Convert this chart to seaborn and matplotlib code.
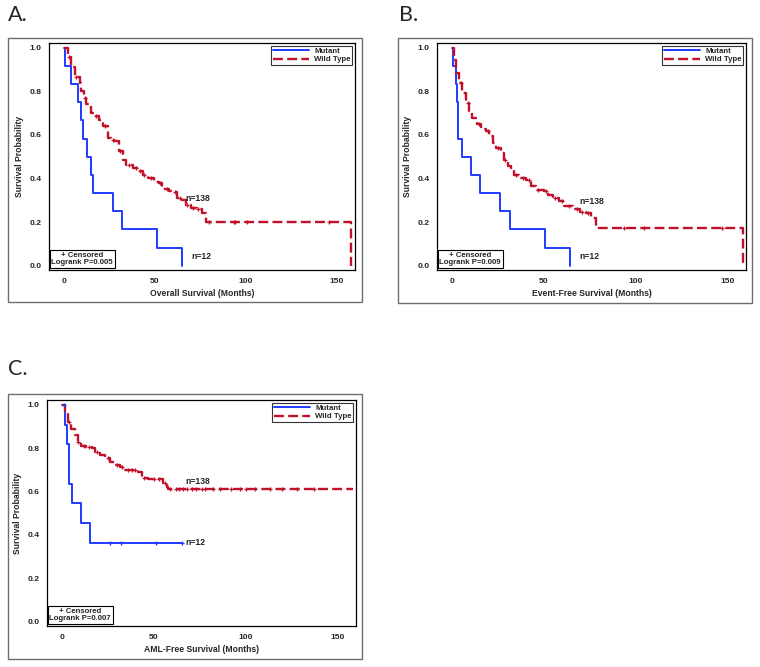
import numpy as np
import pandas as pd
import matplotlib
matplotlib.use("Agg")
import matplotlib.pyplot as plt
import seaborn as sns
from matplotlib.lines import Line2D
from matplotlib.patches import Rectangle

# ---- data (months, survival probability) ----
# Panel A: overall survival
A_mut_t = [0, 0.7, 4.3, 8.0, 9.4, 10.7, 13.0, 15.3, 16.0, 27.0, 32.0, 51.5, 65.0]
A_mut_s = [1.0, 0.917, 0.833, 0.75, 0.667, 0.583, 0.5, 0.417, 0.333, 0.25, 0.167, 0.083, 0.0]
A_wt_t = [0, 0.7, 2.5, 4.3, 6.1, 8.9, 9.8, 11.0, 12.5, 15.2, 17.2, 19.7, 21.6, 24.3, 26.3,
          27.9, 30.6, 32.4, 34.4, 38.0, 41.7, 43.5, 46.2, 49.8, 52.5, 54.3, 58.0, 60.7,
          62.5, 65.0, 67.0, 69.7, 73.4, 76.0, 78.0, 157.6]
A_wt_s = [1.0, 1.0, 0.96, 0.914, 0.868, 0.838, 0.80, 0.77, 0.74, 0.70, 0.685, 0.67, 0.64,
          0.586, 0.575, 0.57, 0.524, 0.486, 0.464, 0.449, 0.433, 0.418, 0.403, 0.383, 0.38,
          0.35, 0.342, 0.338, 0.31, 0.303, 0.28, 0.265, 0.262, 0.24, 0.20, 0.0]
A_wt_cens = [3, 7, 12, 18, 23, 27, 31, 36, 40, 42, 44, 48, 53, 57, 61, 64, 68, 71, 74,
             79.7, 93.3, 94.2, 100.5, 145.8]
A_mut_cens = []
A_pval = "Logrank P=0.005"
A_xlabel = "Overall Survival (Months)"

# Panel B: event-free survival
B_mut_t = [0, 0.7, 2.2, 3.1, 3.6, 5.5, 10.4, 15.3, 26.2, 31.6, 50.9, 64.5]
B_mut_s = [1.0, 0.917, 0.833, 0.75, 0.583, 0.5, 0.417, 0.333, 0.25, 0.167, 0.083, 0.0]
B_wt_t = [0, 1.3, 2.5, 4.0, 5.8, 7.6, 9.5, 11.3, 14.0, 15.8, 18.5, 20.4, 22.2, 24.0, 26.7,
          28.5, 30.4, 32.2, 34.0, 36.7, 40.4, 43.0, 45.8, 50.4, 52.2, 55.0, 58.5, 61.3,
          65.8, 69.5, 73.0, 75.8, 78.5, 158.2]
B_wt_s = [1.0, 0.946, 0.885, 0.84, 0.793, 0.747, 0.709, 0.678, 0.648, 0.625, 0.617, 0.594,
          0.564, 0.54, 0.518, 0.487, 0.456, 0.441, 0.418, 0.403, 0.395, 0.364, 0.349, 0.342,
          0.326, 0.31, 0.296, 0.273, 0.26, 0.247, 0.242, 0.219, 0.173, 0.0]
B_wt_cens = [5, 9, 15, 20, 25, 29, 35, 39, 42, 47, 51, 56, 60, 64, 68, 71, 74,
             93.6, 104.5, 146.7]
B_mut_cens = []
B_pval = "Logrank P=0.009"
B_xlabel = "Event-Free Survival (Months)"

# Panel C: AML-free survival
C_mut_t = [0, 2.0, 3.1, 4.2, 5.6, 10.7, 15.6, 65.2]
C_mut_s = [1.0, 0.909, 0.818, 0.636, 0.545, 0.455, 0.364, 0.364]
C_wt_t = [0, 1.6, 3.4, 5.3, 7.1, 8.9, 10.7, 13.4, 16.2, 18.0, 20.7, 23.4, 26.1, 28.9,
          31.6, 34.3, 37.0, 41.6, 43.4, 47.0, 55.2, 57.0, 57.9, 158.6]
C_wt_s = [1.0, 0.96, 0.92, 0.89, 0.86, 0.83, 0.81, 0.807, 0.80, 0.784, 0.769, 0.753,
          0.738, 0.723, 0.715, 0.70, 0.697, 0.692, 0.662, 0.658, 0.64, 0.623, 0.611, 0.611]
C_wt_cens = [4, 9, 12, 15, 19, 25, 30, 33, 36, 38, 40, 45, 50, 53, 56, 59, 62, 64, 66,
             68, 71, 73, 76, 78, 82, 86, 92, 97, 100, 105, 113, 120, 128, 137]
C_mut_cens = [1.3, 26, 32, 51, 65.2]
C_pval = "Logrank P=0.007"
C_xlabel = "AML-Free Survival (Months)"

n_labels = ["n=12", "n=138"]
# label anchor (months, survival) for each panel: mutant, wild type
A_nlab = [(70, 0.04), (67, 0.306)]
B_nlab = [(69.5, 0.04), (69.5, 0.296)]
C_nlab = [(67.3, 0.363), (67.3, 0.646)]

BLUE = "#1f3cff"
RED = "#c2102b"
FONT = ["Liberation Sans", "DejaVu Sans"]


def step_at(ts, ss, c):
    i = np.searchsorted(ts, c, side="right") - 1
    return np.asarray(ss)[i]


def km_panel(ax, mut_t, mut_s, wt_t, wt_s, mut_cens, wt_cens, nlab, pval, xlabel):
    sns.lineplot(x=mut_t, y=mut_s, ax=ax, color=BLUE, lw=1.4,
                 drawstyle="steps-post", estimator=None, sort=False)
    sns.lineplot(x=wt_t, y=wt_s, ax=ax, color=RED, lw=1.7,
                 drawstyle="steps-post", estimator=None, sort=False,
                 linestyle=(0, (4.2, 1.8)))

    cy = [step_at(np.asarray(wt_t), wt_s, c) for c in wt_cens]
    sns.scatterplot(x=wt_cens, y=cy, ax=ax, marker="+", color=RED, s=12,
                    linewidth=0.9, zorder=5)
    if mut_cens:
        my = [step_at(np.asarray(mut_t), mut_s, c) for c in mut_cens]
        sns.scatterplot(x=mut_cens, y=my, ax=ax, marker="+", color=BLUE, s=12,
                        linewidth=0.9, zorder=5)

    for (x, y), lab in zip(nlab, n_labels):
        ax.text(x, y, lab, fontsize=6.2, fontweight="bold", va="center", ha="left",
                family=FONT)

    ax.set_xlim(-8, 160)
    ax.set_ylim(-0.02, 1.022)
    ax.set_xticks([0, 50, 100, 150])
    ax.set_yticks([0.0, 0.2, 0.4, 0.6, 0.8, 1.0])
    ax.set_yticklabels([f"{v:.1f}" for v in [0.0, 0.2, 0.4, 0.6, 0.8, 1.0]])
    ax.tick_params(labelsize=6.1, length=3, width=0.8, pad=2.5)
    for lbl in ax.get_xticklabels() + ax.get_yticklabels():
        lbl.set_family(FONT)
        lbl.set_fontweight("bold")
    ax.set_xlabel(xlabel, fontsize=6.2, fontweight="bold", family=FONT, labelpad=3)
    ax.set_ylabel("Survival Probability", fontsize=6.2, fontweight="bold", family=FONT,
                  labelpad=4)
    for sp in ax.spines.values():
        sp.set_visible(True)
        sp.set_linewidth(0.9)
        sp.set_color("black")

    handles = [Line2D([], [], color=BLUE, lw=1.4),
               Line2D([], [], color=RED, lw=1.7, linestyle=(0, (4.2, 1.8)))]
    leg = ax.legend(handles, ["Mutant", "Wild Type"], loc="upper right",
                    frameon=True, fancybox=False, handlelength=4.6,
                    borderaxespad=0.35, borderpad=0.2, labelspacing=0.12,
                    handletextpad=0.6,
                    prop={"family": FONT, "size": 5.7, "weight": "bold"})
    leg.get_frame().set_edgecolor("black")
    leg.get_frame().set_linewidth(0.8)

    ax.text(0.008, 0.016, "+ Censored\n" + pval, transform=ax.transAxes,
            ha="left", va="bottom", multialignment="center", fontsize=5.6,
            fontweight="bold", family=FONT, linespacing=1.1,
            bbox=dict(boxstyle="square,pad=0.2", fc="white", ec="black", lw=0.8))


def main():
    sns.set_style("white")
    plt.rcParams["font.family"] = FONT

    W, H = 760, 667
    fig = plt.figure(figsize=(W / 100, H / 100), dpi=100)

    def fig_rect(x0, y0, x1, y1):
        return [x0 / W, 1 - y1 / H, (x1 - x0) / W, (y1 - y0) / H]

    axA = fig.add_axes(fig_rect(49, 43, 355, 270))
    axB = fig.add_axes(fig_rect(437, 43, 746, 270))
    axC = fig.add_axes(fig_rect(47, 400, 356, 626))

    km_panel(axA, A_mut_t, A_mut_s, A_wt_t, A_wt_s, A_mut_cens, A_wt_cens, A_nlab, A_pval, A_xlabel)
    km_panel(axB, B_mut_t, B_mut_s, B_wt_t, B_wt_s, B_mut_cens, B_wt_cens, B_nlab, B_pval, B_xlabel)
    km_panel(axC, C_mut_t, C_mut_s, C_wt_t, C_wt_s, C_mut_cens, C_wt_cens, C_nlab, C_pval, C_xlabel)

    # outer grey frames around each panel
    for x0, y0, x1, y1 in [(8, 38, 362, 302), (398, 38, 752, 303), (8, 394, 362, 659)]:
        fig.add_artist(Rectangle((x0 / W, 1 - y1 / H), (x1 - x0) / W, (y1 - y0) / H,
                                 transform=fig.transFigure, fill=False,
                                 ec="#6e6e6e", lw=1.0))

    for lab, x, y in [("A.", 8, 21), ("B.", 399, 21), ("C.", 8, 375)]:
        fig.text(x / W, 1 - y / H, lab, fontsize=15.5, ha="left", va="baseline",
                 family=["Lato", "DejaVu Sans"])

    fig.savefig("out.png", dpi=100, facecolor="white")
    plt.close(fig)


if __name__ == "__main__":
    main()
